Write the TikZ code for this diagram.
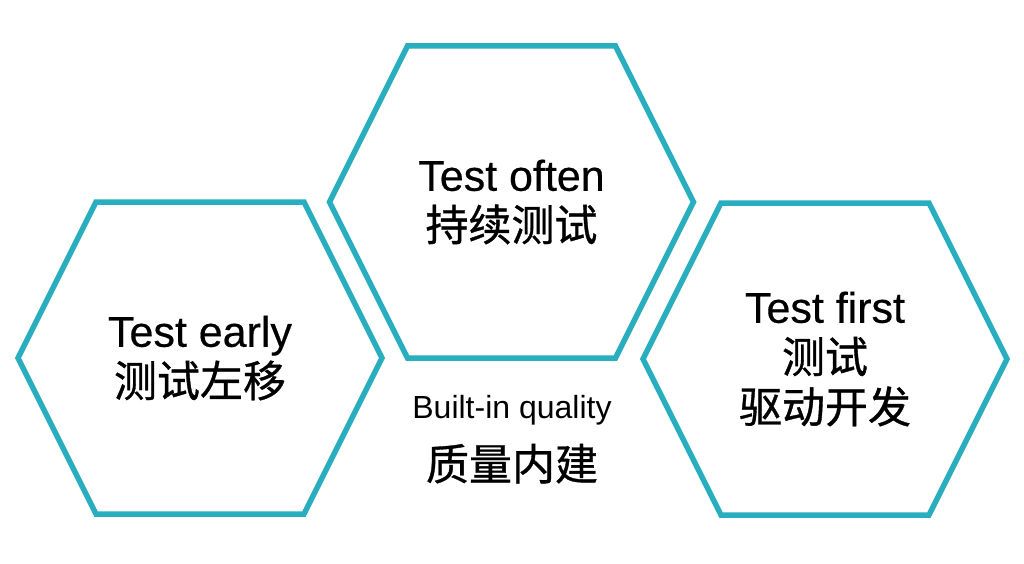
\documentclass[tikz,border=0pt]{standalone}
\usepackage{fontspec}
\setmainfont{Liberation Sans}[FakeBold=0.4]
\newfontfamily\cjk{Noto Sans CJK SC}[FakeBold=0.8]
\newfontfamily\plainsans{Liberation Sans}
\definecolor{hexteal}{RGB}{40,174,190}
\tikzset{
  hexline/.style={draw=hexteal, line width=5.5pt},
  bigtext/.style={align=center, font=\fontsize{43}{50}\selectfont, inner sep=0pt},
  smalltext/.style={font=\fontsize{32}{36}\selectfont\plainsans, inner sep=0pt, anchor=base},
  cjktext/.style={font=\fontsize{43}{50}\selectfont\cjk, inner sep=0pt, anchor=base}
}
\begin{document}
\begin{tikzpicture}[x=1pt,y=-1pt]
\useasboundingbox (0,0) rectangle (1024,564);
\fill[white] (0,0) rectangle (1024,564);
\foreach \n/\cx/\cy in {L/200/358, M/511.5/202, R/825/359} {
  \draw[hexline] (\cx-182,\cy) -- (\cx-104,\cy-156) -- (\cx+104,\cy-156)
    -- (\cx+182,\cy) -- (\cx+104,\cy+156) -- (\cx-104,\cy+156) -- cycle;
  \coordinate (hex\n) at (\cx,\cy);
}
\node[bigtext] (early) at (hexL) {Test early\\{\cjk 测试左移}};
\node[bigtext] (often) at (hexM) {Test often\\{\cjk 持续测试}};
\node[bigtext] (first) at (hexR) {Test first\\{\cjk 测试}\\{\cjk 驱动开发}};
\node[smalltext] (builtin) at (512,418) {Built-in quality};
\node[cjktext] (quality) at (512,480) {质量内建};
\end{tikzpicture}
\end{document}
